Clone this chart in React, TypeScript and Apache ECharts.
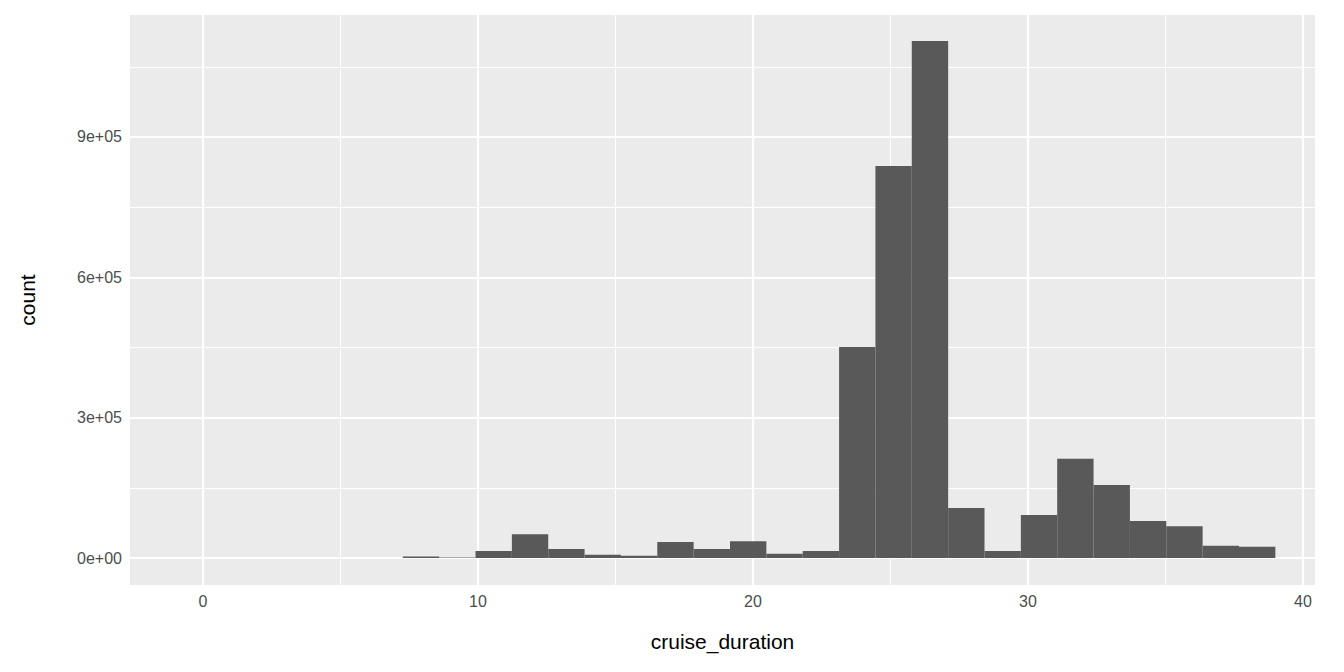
import { useEffect, useRef } from 'react'
import * as echarts from 'echarts'

// histogram of cruise_duration, 24 bins
const binStart = 7.27
const binWidth = 1.322
const counts = [
  3000, 1000, 15000, 51000, 19000, 7000, 5000, 34000, 19000, 36000, 9000, 15000,
  451000, 838000, 1105000, 107000, 15000, 92000, 212000, 156000, 79000, 68000, 26000, 24000,
]
const xMajor = [0, 10, 20, 30, 40]
const xMinor = [5, 15, 25, 35]
const yMajor = [0, 300000, 600000, 900000]
const yMinor = [150000, 450000, 750000, 1050000]

const fmtY = (v: number) => (v === 0 ? '0e+00' : `${v / 100000}e+05`)

export default function App() {
  const ref = useRef<HTMLDivElement>(null)

  useEffect(() => {
    if (!ref.current) return
    const chart = echarts.init(ref.current, undefined, { renderer: 'svg' })
    const bins = counts.map((c, i) => [binStart + i * binWidth, binStart + (i + 1) * binWidth, c])
    const grid = (axis: 'x' | 'y', vals: number[], w: number) =>
      vals.map(v => ({ [axis === 'x' ? 'xAxis' : 'yAxis']: v, lineStyle: { color: '#fff', width: w, type: 'solid' } }))

    chart.setOption({
      animation: false,
      grid: { left: 130, right: 29, top: 15, bottom: 87, show: true, backgroundColor: '#ebebeb', borderWidth: 0 },
      xAxis: {
        type: 'value', min: -2.65, max: 40.44,
        name: 'cruise_duration', nameLocation: 'middle', nameGap: 46,
        nameTextStyle: { fontFamily: 'Liberation Sans', fontSize: 21, color: '#000' },
        axisLine: { show: false },
        axisTick: { show: true, customValues: xMajor, length: 5, lineStyle: { color: '#333' } },
        axisLabel: { customValues: xMajor, fontFamily: 'Liberation Sans', fontSize: 16, color: '#4d4d4d', margin: 8 },
        splitLine: { show: false },
      },
      yAxis: {
        type: 'value', min: -57700, max: 1160700,
        name: 'count', nameLocation: 'middle', nameGap: 92,
        nameTextStyle: { fontFamily: 'Liberation Sans', fontSize: 21, color: '#000' },
        axisLine: { show: false },
        axisTick: { show: true, customValues: yMajor, length: 5, lineStyle: { color: '#333' } },
        axisLabel: { customValues: yMajor, formatter: fmtY, fontFamily: 'Liberation Sans', fontSize: 16, color: '#4d4d4d', margin: 8 },
        splitLine: { show: false },
      },
      series: [
        {
          type: 'line', data: [], z: 1,
          markLine: {
            silent: true, symbol: 'none', label: { show: false }, animation: false,
            data: [...grid('x', xMinor, 1), ...grid('y', yMinor, 1), ...grid('x', xMajor, 2.2), ...grid('y', yMajor, 2.2)],
          },
        },
        {
          type: 'custom', z: 5, data: bins,
          renderItem: (_p: any, api: any) => {
            const a = api.coord([api.value(0), api.value(2)])
            const b = api.coord([api.value(1), 0])
            return { type: 'rect', shape: { x: a[0], y: a[1], width: b[0] - a[0], height: b[1] - a[1] }, style: { fill: '#595959' } }
          },
        },
      ],
    })
    return () => chart.dispose()
  }, [])

  return <div ref={ref} style={{ width: 1344, height: 672, margin: -8 }} />
}
